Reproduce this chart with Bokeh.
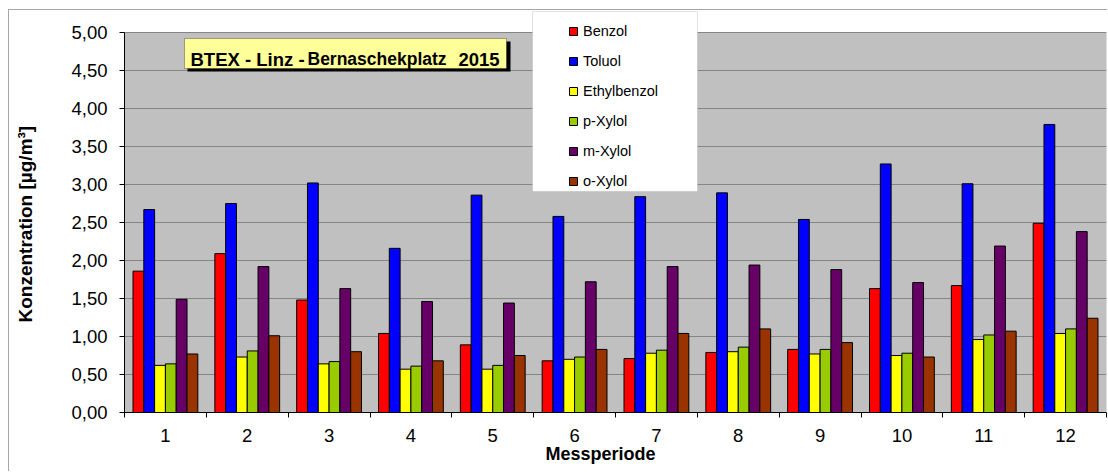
from bokeh.plotting import figure
from bokeh.models import (Range1d, FixedTicker, CustomJSTickFormatter, Legend, LegendItem,
                          BoxAnnotation, Label, Title, ColumnDataSource)
from bokeh.transform import dodge
from bokeh.embed import file_html
from bokeh.resources import INLINE

# ---------------- data ----------------
periods = [1, 2, 3, 4, 5, 6, 7, 8, 9, 10, 11, 12]
period_bounds = [0.5, 1.5, 2.5, 3.5, 4.5, 5.5, 6.5, 7.5, 8.5, 9.5, 10.5, 11.5, 12.5]
series_names = ["Benzol", "Toluol", "Ethylbenzol", "p-Xylol", "m-Xylol", "o-Xylol"]
benzol = [1.86, 2.09, 1.48, 1.04, 0.89, 0.68, 0.71, 0.79, 0.83, 1.63, 1.67, 2.49]
toluol = [2.67, 2.75, 3.02, 2.16, 2.86, 2.58, 2.84, 2.89, 2.54, 3.27, 3.01, 3.79]
ethylbenzol = [0.62, 0.73, 0.64, 0.57, 0.57, 0.70, 0.78, 0.80, 0.77, 0.75, 0.96, 1.04]
p_xylol = [0.64, 0.81, 0.67, 0.61, 0.62, 0.73, 0.82, 0.86, 0.83, 0.78, 1.02, 1.10]
m_xylol = [1.49, 1.92, 1.63, 1.46, 1.44, 1.72, 1.92, 1.94, 1.88, 1.71, 2.19, 2.38]
o_xylol = [0.77, 1.01, 0.80, 0.68, 0.75, 0.83, 1.04, 1.10, 0.92, 0.73, 1.07, 1.24]
y_ticks = [0.0, 0.5, 1.0, 1.5, 2.0, 2.5, 3.0, 3.5, 4.0, 4.5, 5.0]
title_parts = ["BTEX - Linz -", "Bernaschekplatz", "2015"]
x_title = "Messperiode"
y_title = "Konzentration [µg/m³]"

colors = ["#FF0000", "#0000FF", "#FFFF00", "#99CC00", "#660066", "#993300"]
FONT = "Liberation Sans"

source = ColumnDataSource(dict(period=periods, Benzol=benzol, Toluol=toluol,
                               Ethylbenzol=ethylbenzol, **{"p-Xylol": p_xylol,
                               "m-Xylol": m_xylol, "o-Xylol": o_xylol}))

# layout geometry in page pixels (used only to place boxes / labels)
FL, FR, FT, FB = 124.0, 1106.0, 10.0, 412.0   # frame edges
Y_TOP_PX = 32.0                                # where the value 5.00 sits
X0, X1, Y0 = 0.5, 12.5, 0.0
PX_PER_Y = (FB - Y_TOP_PX) / 5.0
Y1 = (FB - FT) / PX_PER_Y

def px_x(px):
    return X0 + (px - FL) / (FR - FL) * (X1 - X0)

def px_y(py):
    return (FB - py) / PX_PER_Y

p = figure(width=1099, height=462, x_range=Range1d(X0, X1), y_range=Range1d(Y0, Y1),
           output_backend="svg", toolbar_location=None,
           min_border_left=115, min_border_right=2, min_border_top=0, min_border_bottom=60)
p.styles = {"margin-left": "8px", "margin-top": "9px",
            "border-left": "1px solid #a6a6a6", "border-top": "1px solid #a6a6a6"}
p.background_fill_color = "white"
p.border_fill_color = "white"
p.outline_line_color = None
p.extra_x_ranges = {"legend_proxy": Range1d(1000, 1001)}

# grey plot area (0 .. 5)
p.add_layout(BoxAnnotation(bottom=0, top=5, level="image", fill_color="#C0C0C0", fill_alpha=1,
                           line_color="#808080", line_width=1))

bw = 0.132
for k, (name, col) in enumerate(zip(series_names, colors)):
    p.vbar(x=dodge("period", (k - 2.5) * bw, range=p.x_range), top=name, width=bw,
           source=source, fill_color=col, line_color="black", line_width=1)

# axes
xa = p.xaxis[0]
xa.ticker = FixedTicker(ticks=periods, minor_ticks=period_bounds)
xa.major_tick_out = 0
xa.major_tick_in = 0
xa.minor_tick_out = 5
xa.minor_tick_in = 0
xa.minor_tick_line_color = "black"
xa.axis_line_color = "black"
xa.major_label_text_font = FONT
xa.major_label_text_font_size = "18.5px"
xa.major_label_text_color = "black"
xa.major_label_standoff = 11

ya = p.yaxis[0]
ya.ticker = FixedTicker(ticks=y_ticks)
ya.bounds = (0, 5)
ya.formatter = CustomJSTickFormatter(code="return tick.toFixed(2).replace('.', ',');")
ya.major_tick_out = 5
ya.major_tick_in = 0
ya.minor_tick_line_color = None
ya.axis_line_color = "black"
ya.major_tick_line_color = "black"
ya.major_label_text_font = FONT
ya.major_label_text_font_size = "18.5px"
ya.major_label_text_color = "black"
ya.major_label_standoff = 12
# blank axis label only widens the axis panel (spacer before the y title)
ya.axis_label = " "
ya.axis_label_text_font_size = "1px"
ya.axis_label_standoff = 29

# axis titles as side titles so that they can be placed like the original
p.add_layout(Title(text=x_title, align="left", offset=421, standoff=-5, text_font=FONT,
                   text_font_style="bold", text_font_size="18px", text_color="black"), "below")
p.add_layout(Title(text=y_title, align="left", offset=90, standoff=0, text_font=FONT,
                   text_font_style="bold", text_font_size="19px", text_color="black"), "left")

p.xgrid.grid_line_color = None
p.ygrid.ticker = FixedTicker(ticks=y_ticks)
p.ygrid.grid_line_color = "#858585"
p.ygrid.grid_line_width = 1

# title box with shadow
p.add_layout(BoxAnnotation(left=px_x(187), right=px_x(510), top=px_y(41), bottom=px_y(71),
                           fill_color="black", fill_alpha=1, line_color=None))
p.add_layout(BoxAnnotation(left=px_x(184), right=px_x(506), top=px_y(38), bottom=px_y(68),
                           fill_color="#FFFF99", fill_alpha=1, line_color="black", line_width=1))
for txt, xpx, size in zip(title_parts, [190, 307, 458], ["18.5px", "17.5px", "18.5px"]):
    p.add_layout(Label(x=px_x(xpx), y=px_y(58.5), text=txt, text_font=FONT,
                       text_font_style="bold", text_font_size=size, text_color="black",
                       text_align="left", text_baseline="alphabetic"))

# legend box
p.add_layout(BoxAnnotation(left=px_x(532), right=px_x(697), top=px_y(11), bottom=px_y(191),
                           fill_color="white", fill_alpha=1, line_color="#a0a0a0", line_width=1))

# legend: squares (proxy markers on an off-screen range) and names in two aligned columns
glyph_items, label_items = [], []
for name, col in zip(series_names, colors):
    r = p.scatter(x="period", y=name, source=source, x_range_name="legend_proxy",
                  marker="square", size=8, fill_color=col, line_color="black", line_width=1)
    glyph_items.append(LegendItem(label=" ", renderers=[r]))
    t = p.scatter(x="period", y=name, source=source, x_range_name="legend_proxy",
                  marker="square", size=8, fill_color=None, line_color=None)
    label_items.append(LegendItem(label=name, renderers=[t]))

common = dict(orientation="vertical", padding=5, spacing=10, margin=0, glyph_height=20,
              label_height=20, label_standoff=0, label_text_font=FONT,
              label_text_font_size="14.5px", label_text_color="black",
              border_line_color=None, background_fill_alpha=0.0)
p.add_layout(Legend(items=glyph_items, location=(412, 221.3), glyph_width=74, **common))
p.add_layout(Legend(items=label_items, location=(459, 221.3), glyph_width=0, **common))

open("out.html", "w").write(file_html(p, INLINE))
